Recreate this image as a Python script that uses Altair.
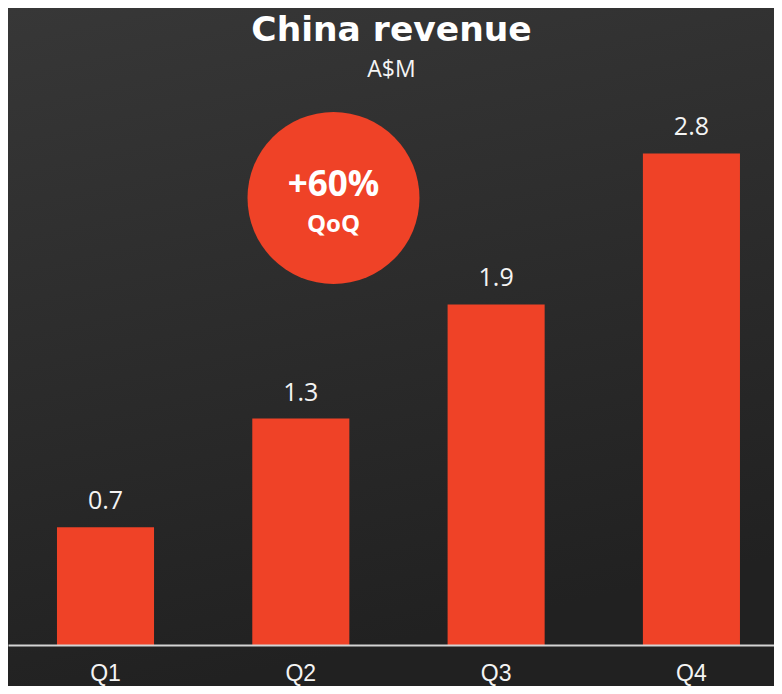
import altair as alt
import pandas as pd

# ---- data ----
quarters = ["Q1", "Q2", "Q3", "Q4"]
revenue = [0.67, 1.29, 1.94, 2.8]
title_text = ["China revenue"]
subtitle_text = ["A$M"]
badge_value = ["+60%"]
badge_label = ["QoQ"]

# ---- style ----
W, H, PB = 766, 637, 41
RED = "#EF4227"
FONT = "Open Sans"
WHITE = "#f4f4f4"

df = pd.DataFrame({"quarter": quarters, "revenue": revenue})

x = alt.X(
    "quarter:N", sort=quarters, title=None,
    scale=alt.Scale(paddingInner=0.503, paddingOuter=0.2125, align=0.59),
    axis=alt.Axis(labelAngle=0, ticks=False, labelPadding=35.5, labelBaseline="alphabetic",
                  labelFontSize=23, labelColor=WHITE, labelFont="Liberation Sans",
                  domainColor="#d4d4d4", domainWidth=2, grid=False, zindex=1),
)
y = alt.Y("revenue:Q", scale=alt.Scale(domain=[0, 3.628], nice=False, zero=True), axis=None)

bg = alt.Chart(pd.DataFrame({"k": [0]})).mark_rect(
    color=alt.LinearGradient(
        gradient="linear",
        stops=[alt.GradientStop(color="#373737", offset=0),
               alt.GradientStop(color="#212121", offset=1)],
        x1=0, x2=0.25, y1=0, y2=1,
    )
).encode(x=alt.value(0), x2=alt.value(W), y=alt.value(0), y2=alt.value(H + PB))

bars = alt.Chart(df).mark_bar(color=RED).encode(x=x, y=y)

labels = alt.Chart(df).mark_text(
    dy=-18, baseline="alphabetic", align="center", fontSize=25, font=FONT, color=WHITE
).encode(x=alt.X("quarter:N", sort=quarters), y=y, text=alt.Text("revenue:Q", format=".1f"))

title = alt.Chart(pd.DataFrame({"t": title_text})).mark_text(
    fontSize=34.5, fontWeight="bold", font="DejaVu Sans", color="#ffffff",
    baseline="alphabetic", align="center"
).encode(x=alt.value(383.5), y=alt.value(33), text="t:N")

subtitle = alt.Chart(pd.DataFrame({"t": subtitle_text})).mark_text(
    fontSize=23, font=FONT, color=WHITE, baseline="alphabetic", align="center"
).encode(x=alt.value(383.5), y=alt.value(68.7), text="t:N")

badge = alt.Chart(pd.DataFrame({"k": [0]})).mark_circle(
    size=29584, color=RED, opacity=1
).encode(x=alt.value(325.5), y=alt.value(190))

badge_v = alt.Chart(pd.DataFrame({"t": badge_value})).mark_text(
    fontSize=35, fontWeight="bold", font=FONT, color="#ffffff", baseline="alphabetic", align="center"
).encode(x=alt.value(325.5), y=alt.value(188), text="t:N")

badge_l = alt.Chart(pd.DataFrame({"t": badge_label})).mark_text(
    fontSize=24, fontWeight="bold", font=FONT, color="#ffffff", baseline="alphabetic", align="center"
).encode(x=alt.value(325.5), y=alt.value(223.7), text="t:N")

chart = alt.layer(bg, bars, labels, title, subtitle, badge, badge_v, badge_l).properties(
    width=W, height=H,
    padding={"left": 0, "right": 0, "top": 0, "bottom": PB},
    autosize="none",
    background="#2b2b2b",
).configure_view(stroke=None)

chart.save("out.html", embed_options={"renderer": "svg", "actions": False})
